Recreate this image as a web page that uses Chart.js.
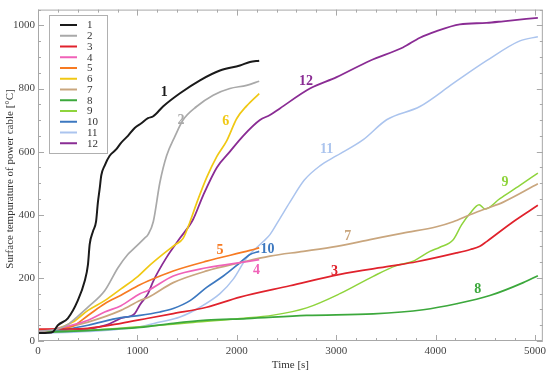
<!DOCTYPE html>
<html>
<head>
<meta charset="utf-8">
<script src="https://cdn.jsdelivr.net/npm/chart.js@4"></script>
<style>
    body { margin: 0; background: #fff; }
    #chart { display: block; }
</style>
</head>
<body>
<canvas id="chart" width="550" height="377"></canvas>
<script>
// Series labels (1..12)
const seriesLabels = ["1", "2", "3", "4", "5", "6", "7", "8", "9", "10", "11", "12"];

// Time [s] / temperature [°C] pairs, one pair of arrays per curve
const time1 = [0, 100, 150, 200, 300, 400, 470, 503, 520, 553, 584, 603, 620, 637, 671, 721, 786, 836, 905, 973, 1040, 1107, 1160, 1258, 1429, 1630, 1831, 2032, 2133, 2226];
const temp1 = [25, 26, 29, 50, 72, 128, 190, 243, 306, 347, 378, 440, 481, 525, 556, 587, 607, 628, 650, 675, 690, 706, 712, 743, 785, 826, 857, 873, 884, 888];

const time2 = [0, 200, 300, 400, 503, 671, 805, 905, 956, 1073, 1107, 1160, 1227, 1294, 1380, 1461, 1596, 1763, 1931, 2099, 2226];
const temp2 = [30, 38, 52, 78, 107, 159, 232, 275, 290, 326, 337, 378, 503, 587, 650, 701, 743, 779, 800, 810, 823];

const time3 = [0, 300, 500, 835, 1107, 1361, 1697, 2032, 2535, 3038, 3541, 3809, 4212, 4350, 4446, 4514, 4782, 5030];
const temp3 = [38, 38, 40, 56, 72, 87, 107, 139, 175, 211, 237, 251, 279, 290, 300, 315, 378, 430];

const time4 = [0, 200, 503, 671, 835, 1026, 1107, 1361, 1697, 2133, 2226];
const temp4 = [30, 40, 66, 92, 112, 150, 160, 206, 232, 253, 258];

const time5 = [0, 334, 503, 671, 835, 1026, 1107, 1361, 1697, 2133, 2226];
const temp5 = [35, 45, 81, 118, 145, 178, 190, 222, 253, 287, 295];

const time6 = [0, 200, 350, 503, 671, 835, 1006, 1107, 1258, 1380, 1460, 1530, 1600, 1700, 1800, 1900, 2000, 2100, 2226];
const temp6 = [30, 40, 60, 97, 128, 165, 205, 235, 275, 305, 325, 378, 440, 520, 585, 635, 705, 745, 784];

const time7 = [0, 200, 503, 835, 1026, 1107, 1361, 1697, 2032, 2334, 2670, 3005, 3340, 3672, 4011, 4178, 4346, 4514, 4682, 5030];
const temp7 = [30, 38, 60, 97, 128, 138, 185, 222, 248, 269, 284, 300, 321, 342, 362, 378, 400, 420, 440, 498];

const time8 = [0, 500, 1026, 1361, 1697, 2100, 2703, 3373, 3876, 4212, 4547, 4883, 5030];
const temp8 = [27, 33, 43, 56, 66, 71, 81, 86, 99, 118, 144, 185, 207];

const time9 = [0, 500, 1026, 1500, 2032, 2367, 2703, 3038, 3373, 3600, 3776, 3943, 4044, 4178, 4262, 4346, 4439, 4497, 4648, 4849, 5030];
const temp9 = [28, 34, 45, 57, 71, 82, 105, 150, 205, 238, 253, 284, 297, 321, 368, 404, 432, 418, 451, 493, 532];

const time10 = [0, 300, 503, 835, 1026, 1227, 1361, 1530, 1697, 1865, 2032, 2133, 2226];
const temp10 = [28, 38, 50, 74, 81, 92, 103, 128, 170, 206, 248, 274, 284];

const time11 = [0, 500, 1026, 1227, 1429, 1630, 1831, 1965, 2099, 2266, 2334, 2434, 2535, 2680, 2837, 3005, 3273, 3508, 3843, 4178, 4514, 4849, 5030];
const temp11 = [25, 30, 45, 60, 76, 107, 150, 196, 263, 315, 337, 388, 440, 510, 555, 587, 638, 701, 743, 816, 888, 951, 964];

const time12 = [0, 500, 700, 835, 973, 1026, 1107, 1160, 1294, 1429, 1560, 1660, 1800, 1931, 2065, 2233, 2334, 2434, 2736, 3005, 3340, 3672, 3843, 4011, 4245, 4514, 4682, 5030];
const temp12 = [30, 38, 52, 72, 87, 115, 150, 190, 265, 326, 385, 460, 550, 600, 650, 700, 716, 737, 800, 836, 888, 930, 961, 982, 1003, 1008, 1013, 1024];

const allTimes = [time1, time2, time3, time4, time5, time6, time7, time8, time9, time10, time11, time12];
const allTemps = [temp1, temp2, temp3, temp4, temp5, temp6, temp7, temp8, temp9, temp10, temp11, temp12];

// Tick values
const xTickValues = [0, 1000, 2000, 3000, 4000, 5000];
const yTickValues = [0, 200, 400, 600, 800, 1000];

// Where the curve numbers sit, in data units
const labelTimes = [1271, 1439, 2983, 2198, 1831, 1888, 3116, 4426, 4698, 2309, 2904, 2696];
const labelTemps = [787, 700, 219, 223, 286, 697, 331, 165, 502, 291, 607, 824];

// Styling
const colors = ["#1a1a1a", "#a9a9a9", "#e0222c", "#f062b8", "#f77a22", "#f0c814", "#c9a67e", "#3ca83c", "#8fd43c", "#3c78c0", "#abc4ee", "#8a2c94"];
const lineWidths = [2, 1.7, 1.7, 1.7, 1.7, 1.7, 1.7, 1.7, 1.5, 1.7, 1.5, 1.8];
const serif = "'Liberation Serif', 'DejaVu Serif', serif";

const datasets = seriesLabels.map((label, i) => ({
    label: label,
    data: allTimes[i].map((t, j) => ({ x: t, y: allTemps[i][j] })),
    borderColor: colors[i],
    borderWidth: lineWidths[i],
    pointRadius: 0,
    fill: false,
    cubicInterpolationMode: "monotone"
}));

// Frame with ticks on all four sides, plus titles, curve numbers and legend box
const framePlugin = {
    id: "frame",
    afterDraw(chart) {
        const ctx = chart.ctx;
        const area = chart.chartArea;
        const xs = chart.scales.x;
        const ys = chart.scales.y;

        ctx.save();
        ctx.strokeStyle = "#a8a8a8";
        ctx.lineWidth = 1;
        ctx.strokeRect(area.left + 0.5, area.top + 0.5, area.right - area.left - 1, area.bottom - area.top - 1);

        ctx.beginPath();
        for (let v = 0; v <= xs.max; v += 200) {
            const px = Math.round(xs.getPixelForValue(v)) + 0.5;
            const len = v % 1000 === 0 ? 6 : 3;
            ctx.moveTo(px, area.bottom);
            ctx.lineTo(px, area.bottom - len);
            ctx.moveTo(px, area.top);
            ctx.lineTo(px, area.top + len);
        }
        for (let v = 0; v <= ys.max; v += 50) {
            const py = Math.round(ys.getPixelForValue(v)) + 0.5;
            const len = v % 200 === 0 ? 6 : 3;
            ctx.moveTo(area.left, py);
            ctx.lineTo(area.left + len, py);
            ctx.moveTo(area.right, py);
            ctx.lineTo(area.right - len, py);
        }
        ctx.stroke();

        // axis titles
        ctx.fillStyle = "#333";
        ctx.font = "11px " + serif;
        ctx.textAlign = "center";
        ctx.textBaseline = "middle";
        ctx.fillText("Time [s]", (area.left + area.right) / 2, 365);
        ctx.translate(10, 179);
        ctx.rotate(-Math.PI / 2);
        ctx.fillText("Surface tempurature of power cable [°C]", 0, 0);
        ctx.restore();

        // curve numbers
        ctx.save();
        ctx.font = "bold 14px " + serif;
        ctx.textAlign = "center";
        ctx.textBaseline = "middle";
        seriesLabels.forEach((label, i) => {
            ctx.fillStyle = colors[i];
            ctx.fillText(label, xs.getPixelForValue(labelTimes[i]), ys.getPixelForValue(labelTemps[i]));
        });
        ctx.restore();

        // legend
        ctx.save();
        ctx.fillStyle = "#fff";
        ctx.fillRect(49.5, 15.5, 58, 138);
        ctx.strokeStyle = "#b0b0b0";
        ctx.strokeRect(49.5, 15.5, 58, 138);
        ctx.font = "11px " + serif;
        ctx.textBaseline = "middle";
        ctx.textAlign = "left";
        chart.data.datasets.forEach((ds, i) => {
            const y = 25 + i * 10.75;
            ctx.strokeStyle = ds.borderColor;
            ctx.lineWidth = 2;
            ctx.beginPath();
            ctx.moveTo(60, y);
            ctx.lineTo(77, y);
            ctx.stroke();
            ctx.fillStyle = "#333";
            ctx.fillText(ds.label, 87, y + 0.5);
        });
        ctx.restore();
    }
};

function drawChart() {
    const ctx = document.getElementById("chart").getContext("2d");
    new Chart(ctx, {
        type: "line",
        data: { datasets: datasets },
        options: {
            responsive: false,
            animation: false,
            devicePixelRatio: 1,
            layout: { padding: { left: 0, right: 7, top: 5, bottom: 0 } },
            plugins: { legend: { display: false }, tooltip: { enabled: false } },
            scales: {
                x: {
                    type: "linear",
                    min: 0,
                    max: 5080,
                    afterFit: (s) => { s.height = 36; },
                    afterBuildTicks: (s) => { s.ticks = xTickValues.map(v => ({ value: v })); },
                    grid: { display: false, drawTicks: false },
                    border: { display: false },
                    ticks: {
                        padding: 4,
                        maxRotation: 0,
                        color: "#444",
                        font: { family: serif, size: 11 },
                        callback: (v) => String(v)
                    }
                },
                y: {
                    min: 0,
                    max: 1050,
                    afterFit: (s) => { s.width = 38; },
                    afterBuildTicks: (s) => { s.ticks = yTickValues.map(v => ({ value: v })); },
                    grid: { display: false, drawTicks: false },
                    border: { display: false },
                    ticks: {
                        padding: 3,
                        color: "#444",
                        font: { family: serif, size: 11 },
                        callback: (v) => String(v)
                    }
                }
            }
        },
        plugins: [framePlugin]
    });
}

drawChart();
</script>
</body>
</html>
